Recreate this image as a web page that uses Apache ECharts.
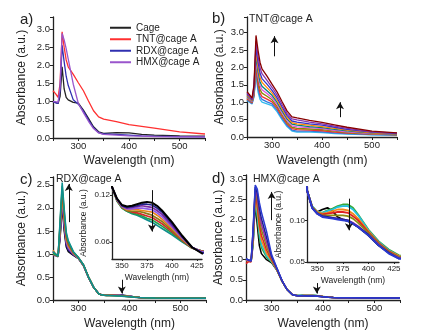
<!DOCTYPE html>
<html>
<head>
<meta charset="utf-8">
<script src="https://cdn.jsdelivr.net/npm/echarts@6/dist/echarts.min.js"></script>
<style>
html, body { margin: 0; padding: 0; background: #fff; }
#chart { width: 422px; height: 331px; }
</style>
</head>
<body>
<div id="chart"></div>
<script>
// wavelength grids (nm)
var wlMain = [250, 255, 260, 264, 268, 272, 276, 280, 290, 300, 310, 320, 330, 340, 350, 375, 400, 425, 450, 500, 550];
var wlFine = [250, 255, 260, 264, 268, 272, 276, 280, 290, 300, 310, 320, 330,
  340, 345, 350, 355, 360, 365, 370, 375, 380, 385, 390, 400, 410, 420, 430, 450, 500, 550];

// panel a
var aCage = [1.0, 0.98, 0.95, 1.15, 1.96, 1.35, 1.12, 1.05, 0.98, 0.96, 0.77, 0.54, 0.31, 0.17, 0.13, 0.15, 0.14, 0.1, 0.08, 0.06, 0.05];
var aTnt = [1.3, 1.22, 1.12, 1.5, 2.92, 2.5, 2.15, 1.96, 1.75, 1.52, 1.3, 1.02, 0.75, 0.58, 0.52, 0.45, 0.37, 0.32, 0.27, 0.17, 0.11];
var aRdx = [1.0, 0.97, 0.95, 1.3, 2.55, 2.1, 1.7, 1.45, 1.05, 0.93, 0.74, 0.5, 0.28, 0.15, 0.11, 0.1, 0.08, 0.06, 0.05, 0.04, 0.03];
var aHmx = [1.0, 1.0, 0.98, 1.4, 2.88, 2.7, 2.46, 2.18, 1.48, 0.95, 0.7, 0.46, 0.26, 0.14, 0.1, 0.08, 0.06, 0.05, 0.04, 0.03, 0.03];
var aNames = ['Cage', 'TNT@cage A', 'RDX@cage A', 'HMX@cage A'];
var aColors = ['#222222', '#ff3030', '#3030b0', '#9a55cc'];

// panel b, TNT titration (bottom to top)
var b1 = [1.05, 1.0, 0.95, 1.15, 1.8, 1.3, 1.08, 1.0, 0.95, 0.9, 0.73, 0.5, 0.3, 0.17, 0.14, 0.14, 0.13, 0.1, 0.08, 0.06, 0.05];
var b2 = [1.07, 1.02, 0.96, 1.18, 1.89, 1.4, 1.17, 1.08, 1.01, 0.95, 0.78, 0.54, 0.34, 0.2, 0.17, 0.17, 0.15, 0.12, 0.1, 0.07, 0.06];
var b3 = [1.09, 1.04, 0.98, 1.21, 1.99, 1.5, 1.26, 1.16, 1.09, 1.01, 0.83, 0.59, 0.38, 0.24, 0.21, 0.2, 0.18, 0.14, 0.11, 0.08, 0.06];
var b4 = [1.12, 1.06, 1.0, 1.24, 2.1, 1.62, 1.37, 1.26, 1.17, 1.07, 0.88, 0.64, 0.42, 0.28, 0.25, 0.23, 0.21, 0.17, 0.13, 0.09, 0.07];
var b5 = [1.14, 1.08, 1.01, 1.28, 2.21, 1.74, 1.48, 1.36, 1.25, 1.13, 0.94, 0.69, 0.47, 0.32, 0.29, 0.27, 0.24, 0.19, 0.15, 0.1, 0.08];
var b6 = [1.17, 1.11, 1.03, 1.32, 2.34, 1.88, 1.59, 1.46, 1.33, 1.2, 1.0, 0.75, 0.52, 0.37, 0.34, 0.3, 0.27, 0.22, 0.18, 0.11, 0.08];
var b7 = [1.2, 1.13, 1.05, 1.36, 2.46, 2.01, 1.71, 1.57, 1.42, 1.27, 1.07, 0.81, 0.57, 0.41, 0.38, 0.34, 0.3, 0.25, 0.2, 0.12, 0.09];
var b8 = [1.23, 1.16, 1.07, 1.4, 2.6, 2.15, 1.84, 1.68, 1.52, 1.34, 1.13, 0.87, 0.62, 0.46, 0.43, 0.38, 0.34, 0.28, 0.22, 0.14, 0.1];
var b9 = [1.26, 1.19, 1.09, 1.45, 2.75, 2.32, 1.99, 1.82, 1.63, 1.43, 1.21, 0.94, 0.68, 0.52, 0.49, 0.43, 0.38, 0.31, 0.25, 0.15, 0.11];
var b10 = [1.3, 1.22, 1.12, 1.5, 2.92, 2.5, 2.15, 1.96, 1.75, 1.52, 1.3, 1.02, 0.75, 0.58, 0.55, 0.48, 0.42, 0.35, 0.28, 0.17, 0.12];
var bColors = ['#33bbee', '#3377dd', '#ee3333', '#888800', '#dd55dd', '#008080', '#ff8800', '#3333cc', '#8833aa', '#880000'];

// panel c, RDX titration (wlFine)
var c1 = [1.0, 0.97, 0.95, 1.35, 2.05, 1.5, 1.15, 1.05, 0.97, 0.9, 0.74, 0.48, 0.27,
  0.13, 0.115, 0.107, 0.105, 0.106, 0.108, 0.11, 0.111, 0.11, 0.106, 0.1, 0.085, 0.068, 0.053, 0.045, 0.045, 0.04, 0.04];
var c2 = [1.06, 0.99, 0.96, 1.4, 2.12, 1.56, 1.19, 1.08, 0.98, 0.9, 0.74, 0.48, 0.27,
  0.13, 0.115, 0.106, 0.104, 0.105, 0.106, 0.108, 0.108, 0.107, 0.103, 0.098, 0.083, 0.067, 0.053, 0.046, 0.045, 0.04, 0.04];
var c3 = [0.97, 0.96, 0.94, 1.45, 2.18, 1.62, 1.23, 1.11, 0.99, 0.9, 0.74, 0.48, 0.27,
  0.13, 0.114, 0.106, 0.103, 0.104, 0.105, 0.106, 0.105, 0.104, 0.1, 0.095, 0.081, 0.066, 0.053, 0.046, 0.045, 0.04, 0.04];
var c4 = [1.04, 0.98, 0.95, 1.5, 2.24, 1.68, 1.27, 1.14, 1.0, 0.91, 0.75, 0.48, 0.27,
  0.13, 0.114, 0.105, 0.102, 0.102, 0.103, 0.103, 0.102, 0.101, 0.097, 0.092, 0.079, 0.065, 0.053, 0.047, 0.045, 0.04, 0.04];
var c5 = [1.08, 1.0, 0.96, 1.55, 2.3, 1.74, 1.31, 1.17, 1.01, 0.91, 0.75, 0.49, 0.27,
  0.13, 0.114, 0.105, 0.101, 0.101, 0.101, 0.1, 0.099, 0.098, 0.094, 0.089, 0.077, 0.064, 0.053, 0.047, 0.045, 0.04, 0.04];
var c6 = [0.99, 0.97, 0.95, 1.6, 2.36, 1.8, 1.35, 1.2, 1.02, 0.91, 0.75, 0.49, 0.27,
  0.13, 0.113, 0.104, 0.1, 0.099, 0.099, 0.098, 0.096, 0.094, 0.09, 0.086, 0.075, 0.063, 0.052, 0.047, 0.045, 0.04, 0.04];
var c7 = [1.04, 0.99, 0.96, 1.65, 2.42, 1.86, 1.39, 1.23, 1.03, 0.92, 0.76, 0.49, 0.27,
  0.13, 0.113, 0.104, 0.1, 0.098, 0.097, 0.095, 0.093, 0.091, 0.087, 0.083, 0.073, 0.062, 0.052, 0.048, 0.045, 0.04, 0.04];
var c8 = [1.01, 0.98, 0.95, 1.7, 2.48, 1.92, 1.43, 1.26, 1.04, 0.92, 0.76, 0.49, 0.27,
  0.13, 0.112, 0.103, 0.099, 0.097, 0.095, 0.093, 0.09, 0.088, 0.084, 0.08, 0.071, 0.061, 0.052, 0.048, 0.045, 0.04, 0.04];
var c9 = [1.05, 1.0, 0.96, 1.75, 2.55, 1.98, 1.47, 1.29, 1.05, 0.92, 0.76, 0.49, 0.27,
  0.13, 0.112, 0.103, 0.099, 0.096, 0.094, 0.091, 0.088, 0.085, 0.081, 0.077, 0.069, 0.06, 0.052, 0.048, 0.045, 0.04, 0.04];
var cColors = ['#000000', '#23238f', '#7d2aa0', '#8e5ae8', '#e8851a', '#8c7a1a', '#d42a2a', '#22a04a', '#0f8f8f'];

// panel d, HMX titration (wlFine)
var d1 = [1.0, 0.98, 0.95, 1.4, 2.4, 1.85, 1.35, 1.15, 1.0, 0.92, 0.74, 0.47, 0.26,
  0.136, 0.116, 0.11, 0.113, 0.115, 0.111, 0.104, 0.101, 0.099, 0.096, 0.092, 0.082, 0.07, 0.061, 0.055, 0.055, 0.05, 0.05];
var d2 = [1.02, 0.99, 0.96, 1.45, 2.5, 2.05, 1.55, 1.3, 1.06, 0.94, 0.75, 0.47, 0.26,
  0.136, 0.117, 0.11, 0.109, 0.112, 0.114, 0.117, 0.119, 0.119, 0.115, 0.107, 0.089, 0.075, 0.065, 0.058, 0.055, 0.05, 0.05];
var d3 = [1.0, 0.98, 0.95, 1.5, 2.55, 2.15, 1.65, 1.38, 1.1, 0.95, 0.75, 0.47, 0.26,
  0.136, 0.117, 0.11, 0.109, 0.111, 0.113, 0.116, 0.117, 0.117, 0.113, 0.106, 0.088, 0.074, 0.064, 0.057, 0.055, 0.05, 0.05];
var d4 = [0.98, 0.97, 0.95, 1.55, 2.6, 2.25, 1.78, 1.48, 1.16, 0.97, 0.76, 0.47, 0.26,
  0.136, 0.116, 0.11, 0.108, 0.109, 0.111, 0.113, 0.113, 0.112, 0.108, 0.102, 0.087, 0.073, 0.063, 0.057, 0.055, 0.05, 0.05];
var d5 = [0.9, 0.95, 0.95, 1.6, 2.65, 2.35, 1.9, 1.6, 1.24, 0.99, 0.76, 0.48, 0.26,
  0.136, 0.116, 0.109, 0.107, 0.108, 0.109, 0.11, 0.11, 0.109, 0.105, 0.1, 0.086, 0.073, 0.063, 0.056, 0.055, 0.05, 0.05];
var d6 = [1.01, 0.98, 0.96, 1.65, 2.7, 2.45, 2.03, 1.74, 1.33, 1.02, 0.77, 0.48, 0.26,
  0.136, 0.116, 0.109, 0.106, 0.106, 0.106, 0.106, 0.106, 0.105, 0.102, 0.097, 0.085, 0.072, 0.062, 0.056, 0.055, 0.05, 0.05];
var d7 = [1.0, 0.98, 0.96, 1.7, 2.75, 2.55, 2.15, 1.88, 1.43, 1.05, 0.78, 0.48, 0.26,
  0.136, 0.115, 0.108, 0.105, 0.104, 0.103, 0.102, 0.101, 0.1, 0.097, 0.093, 0.083, 0.071, 0.061, 0.055, 0.055, 0.05, 0.05];
var d8 = [1.03, 0.99, 0.97, 1.75, 2.8, 2.65, 2.28, 2.02, 1.55, 1.08, 0.79, 0.48, 0.26,
  0.136, 0.115, 0.108, 0.105, 0.104, 0.103, 0.102, 0.101, 0.1, 0.096, 0.092, 0.083, 0.07, 0.061, 0.054, 0.055, 0.05, 0.05];
var d9 = [1.02, 0.99, 0.97, 1.8, 2.85, 2.75, 2.42, 2.18, 1.7, 1.12, 0.8, 0.49, 0.26,
  0.136, 0.115, 0.108, 0.104, 0.103, 0.102, 0.101, 0.1, 0.099, 0.096, 0.092, 0.082, 0.07, 0.06, 0.054, 0.055, 0.05, 0.05];
var dColors = ['#000000', '#3aa83a', '#22c0e0', '#f08a1a', '#e02020', '#8c8c10', '#a030a0', '#202090', '#2a3ad0'];

var bSet = [b1, b2, b3, b4, b5, b6, b7, b8, b9, b10];
var cSet = [c1, c2, c3, c4, c5, c6, c7, c8, c9];
var dSet = [d1, d2, d3, d4, d5, d6, d7, d8, d9];

var FONT = 'Arial, "Liberation Sans", sans-serif';
var INK = '#222';

function curve(xs, ys, color, width, gi, name) {
  return {
    type: 'line', name: name, xAxisIndex: gi, yAxisIndex: gi,
    data: xs.map(function (x, i) { return [x, ys[i]]; }),
    symbol: 'none', showSymbol: false, silent: true,
    lineStyle: { color: color, width: width }, itemStyle: { color: color }
  };
}
function arrow(p0, p1) {
  return {
    silent: true, symbol: ['none', 'arrow'], symbolSize: [6, 7],
    label: { show: false }, lineStyle: { color: '#111', width: 1, type: 'solid' },
    data: [[{ coord: p0 }, { coord: p1 }]]
  };
}

function mainX(gi, gap) {
  return {
    gridIndex: gi, type: 'value', min: 250, max: 550, interval: 50,
    name: 'Wavelength (nm)', nameLocation: 'middle', nameGap: gap,
    nameTextStyle: { fontFamily: FONT, fontSize: 12, color: INK },
    axisLine: { lineStyle: { color: INK, width: 1.3 } },
    axisTick: { length: 3, lineStyle: { color: INK } },
    splitLine: { show: false },
    axisLabel: {
      fontFamily: FONT, fontSize: 9.5, color: INK, margin: 3,
      formatter: function (v) { return v % 100 === 0 ? String(v) : ''; }
    }
  };
}
function mainY(gi, max, gap) {
  return {
    gridIndex: gi, type: 'value', min: 0, max: max, interval: 0.5,
    name: 'Absorbance (a.u.)', nameLocation: 'middle', nameGap: gap,
    nameTextStyle: { fontFamily: FONT, fontSize: 12, color: INK },
    axisLine: { show: true, lineStyle: { color: INK, width: 1.3 } },
    axisTick: { show: true, length: 3, lineStyle: { color: INK } },
    splitLine: { show: false },
    axisLabel: {
      fontFamily: FONT, fontSize: 9.5, color: INK, margin: 3,
      formatter: function (v) { return Math.abs(v * 2 - Math.round(v * 2)) < 1e-6 ? v.toFixed(1) : ''; }
    }
  };
}
function insetX(gi) {
  return {
    gridIndex: gi, type: 'value', min: 340, max: 430,
    name: 'Wavelength (nm)', nameLocation: 'middle', nameGap: 14,
    nameTextStyle: { fontFamily: FONT, fontSize: 8.5, color: INK },
    axisLine: { lineStyle: { color: INK, width: 1.3 } },
    axisTick: { length: 2, customValues: [350, 375, 400, 425], lineStyle: { color: INK } },
    splitLine: { show: false },
    axisLabel: { fontFamily: FONT, fontSize: 8, color: INK, margin: 3, customValues: [350, 375, 400, 425] }
  };
}
function insetY(gi, min, max, ticks) {
  return {
    gridIndex: gi, type: 'value', min: min, max: max,
    name: 'Absorbance (a.u.)', nameLocation: 'middle', nameGap: 24,
    nameTextStyle: { fontFamily: FONT, fontSize: 8.5, color: INK },
    axisLine: { show: true, lineStyle: { color: INK, width: 1.3 } },
    axisTick: { show: true, length: 2, customValues: ticks, lineStyle: { color: INK } },
    splitLine: { show: false },
    axisLabel: {
      fontFamily: FONT, fontSize: 8, color: INK, margin: 2, customValues: ticks,
      formatter: function (v) { return v.toFixed(2); }
    }
  };
}

var series = [];
// a
[aCage, aTnt, aRdx, aHmx].forEach(function (ys, i) {
  series.push(curve(wlMain, ys, aColors[i], 1.3, 0, aNames[i]));
});
// b
bSet.forEach(function (ys, i) {
  series.push(curve(wlMain, ys, bColors[i], 1.3, 1));
});
series[series.length - 1].markLine = arrow([305, 2.32], [305, 2.9]);
series.push({ type: 'line', xAxisIndex: 1, yAxisIndex: 1, data: [], markLine: arrow([436, 0.57], [436, 1.0]) });
// c main
cSet.forEach(function (ys, i) {
  series.push(curve(wlFine, ys, cColors[i], 1.5, 2));
});
series[series.length - 1].markLine = arrow([281, 1.69], [281, 2.52]);
series.push({ type: 'line', xAxisIndex: 2, yAxisIndex: 2, data: [], markLine: arrow([385, 0.44], [385, 0.14]) });
// d main
dSet.forEach(function (ys, i) {
  series.push(curve(wlFine, ys, dColors[i], 1.5, 3));
});
series[series.length - 1].markLine = arrow([300, 1.98], [300, 2.68]);
series.push({ type: 'line', xAxisIndex: 3, yAxisIndex: 3, data: [], markLine: arrow([388, 0.42], [388, 0.16]) });
// c inset: black drawn last
cSet.slice().reverse().forEach(function (ys, j) {
  var i = cSet.length - 1 - j;
  series.push(curve(wlFine, ys, cColors[i], i === 0 ? 2 : 1.7, 4));
});
series[series.length - 1].markLine = arrow([380, 0.126], [380, 0.073]);
// d inset
dSet.forEach(function (ys, i) {
  series.push(curve(wlFine, ys, dColors[i], 1.8, 5));
});
series[series.length - 1].markLine = arrow([381, 0.126], [381, 0.088]);

var chart = echarts.init(document.getElementById('chart'), null, { renderer: 'canvas' });
chart.setOption({
  animation: false,
  backgroundColor: '#ffffff',
  textStyle: { fontFamily: FONT },
  title: [
    { text: 'a)', left: 20, top: 12, padding: 0, textStyle: { fontFamily: FONT, fontSize: 15, fontWeight: 'normal', color: INK } },
    { text: 'b)', left: 212, top: 11, padding: 0, textStyle: { fontFamily: FONT, fontSize: 15, fontWeight: 'normal', color: INK } },
    { text: 'c)', left: 20, top: 172, padding: 0, textStyle: { fontFamily: FONT, fontSize: 15, fontWeight: 'normal', color: INK } },
    { text: 'd)', left: 212, top: 171, padding: 0, textStyle: { fontFamily: FONT, fontSize: 15, fontWeight: 'normal', color: INK } },
    { text: 'TNT@cage A', left: 249, top: 14, padding: 0, textStyle: { fontFamily: FONT, fontSize: 10.5, fontWeight: 'normal', color: INK } },
    { text: 'RDX@cage A', left: 56, top: 174, padding: 0, textStyle: { fontFamily: FONT, fontSize: 10.5, fontWeight: 'normal', color: INK } },
    { text: 'HMX@cage A', left: 253, top: 174, padding: 0, textStyle: { fontFamily: FONT, fontSize: 10.5, fontWeight: 'normal', color: INK } }
  ],
  legend: {
    data: aNames, orient: 'vertical', left: 110, top: 22, padding: 0,
    icon: 'rect', itemWidth: 21, itemHeight: 2, itemGap: 0,
    textStyle: { fontFamily: FONT, fontSize: 10, color: INK, lineHeight: 11.5 }
  },
  grid: [
    { left: 53, top: 17, width: 152, height: 121 },
    { left: 247, top: 17, width: 150, height: 120 },
    { left: 53, top: 177, width: 153, height: 123 },
    { left: 246, top: 175, width: 154, height: 125 },
    { left: 112, top: 187, width: 90, height: 72 },
    { left: 307, top: 187, width: 92, height: 75 }
  ],
  xAxis: [mainX(0, 17), mainX(1, 18), mainX(2, 18), mainX(3, 18), insetX(4), insetX(5)],
  yAxis: [mainY(0, 3.33, 25), mainY(1, 3.45, 21), mainY(2, 2.67, 25), mainY(3, 3.1, 21),
    insetY(4, 0.038, 0.13, [0.06, 0.12]), insetY(5, 0.05, 0.14, [0.05, 0.1])],
  series: series
});
</script>
</body>
</html>
